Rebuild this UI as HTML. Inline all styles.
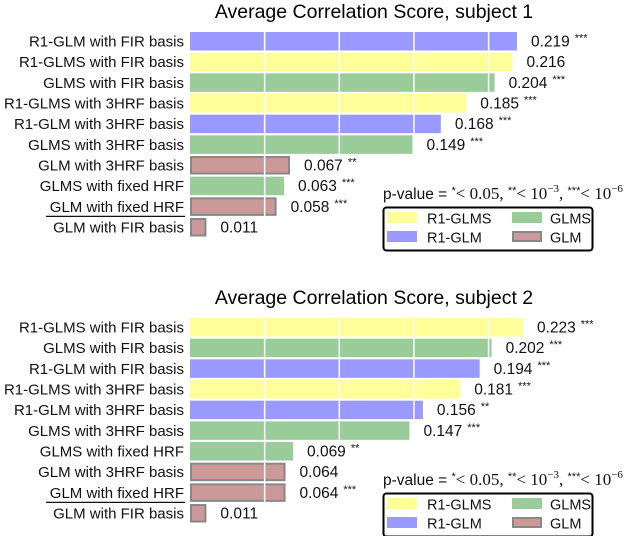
<!DOCTYPE html>
<html><head><meta charset="utf-8"><style>
body{margin:0;background:#fff;width:640px;height:536px;overflow:hidden}
svg{font-family:"Liberation Sans",sans-serif}
</style></head><body>
<svg id="s" width="640" height="536"></svg>
<script>
const labels1=["R1-GLM with FIR basis","R1-GLMS with FIR basis","GLMS with FIR basis","R1-GLMS with 3HRF basis","R1-GLM with 3HRF basis","GLMS with 3HRF basis","GLM with 3HRF basis","GLMS with fixed HRF","GLM with fixed HRF","GLM with FIR basis"];
const values1=[0.219,0.216,0.204,0.185,0.168,0.149,0.067,0.063,0.058,0.011];
const groups1=["R1-GLM","R1-GLMS","GLMS","R1-GLMS","R1-GLM","GLMS","GLM","GLMS","GLM","GLM"];
const stars1=["***","","***","***","***","***","**","***","***",""];
const labels2=["R1-GLMS with FIR basis","GLMS with FIR basis","R1-GLM with FIR basis","R1-GLMS with 3HRF basis","R1-GLM with 3HRF basis","GLMS with 3HRF basis","GLMS with fixed HRF","GLM with 3HRF basis","GLM with fixed HRF","GLM with FIR basis"];
const values2=[0.223,0.202,0.194,0.181,0.156,0.147,0.069,0.064,0.064,0.011];
const groups2=["R1-GLMS","GLMS","R1-GLM","R1-GLMS","R1-GLM","GLMS","GLMS","GLM","GLM","GLM"];
const stars2=["***","***","***","***","**","***","**","","***",""];
const gridTicks=[0.05,0.10,0.15,0.20];
const colors={"R1-GLMS":"#ffff99","R1-GLM":"#9999ff","GLMS":"#99cc99","GLM":"#cc9999"};
const NS="http://www.w3.org/2000/svg";
const svg=document.getElementById('s');
function mk(t,a,p){const e=document.createElementNS(NS,t);for(const k in a)e.setAttribute(k,a[k]);(p||svg).appendChild(e);return e;}
const X0=190,SC=1493;
function xs(v){return X0+v*SC;}
function chart(oy,title,labels,values,groups,stars,n){
  const g=mk('g',{});
  
  
  const t=mk('text',{x:374,y:oy+18,'text-anchor':'middle','font-size':19.5},g);
  t.textContent=title;
  
  
  const pitch=20.67;
  values.forEach((v,i)=>{
    const y=oy+32+i*pitch;
    const isG=groups[i]==="GLM";
    const r=mk('rect',{x:X0+(isG?1:0),y:y+(isG?1:0),width:xs(v)-X0-(isG?2:0),height:18.5-(isG?2:0),fill:colors[groups[i]],stroke:isG?'#888':'none','stroke-width':isG?2:0},g);
    
    
    gridTicks.forEach(tk=>{if(xs(tk)<xs(v)-1)mk('line',{x1:xs(tk),x2:xs(tk),y1:y,y2:y+18.5,stroke:'#fff','stroke-width':1.5},g);});
    const l=mk('text',{x:184,y:y+14.5,'text-anchor':'end','font-size':15,fill:'#111'},g);
    l.textContent=labels[i];
    
    
    if(labels[i]==="GLM with fixed HRF")mk('line',{x1:46,x2:185,y1:y+19,y2:y+19,stroke:'#111','stroke-width':1.3},g);
    const vt=mk('text',{x:xs(v)+14,y:y+14.5,'font-size':15.5,fill:'#111'},g);
    vt.textContent=v.toFixed(3);
    
    
    if(stars[i]){const st=mk('tspan',{dx:5,dy:-5,'font-size':11},vt);st.textContent=stars[i];}
  });
  const pv=mk('text',{x:383,y:oy+199,'font-size':15.5,fill:'#111'},g);
  pv.innerHTML='p-value = <tspan font-size="11" dy="-5">*</tspan><tspan dy="5" font-family="Liberation Serif" font-size="17">&lt; 0.05, </tspan><tspan font-size="11" dy="-5">**</tspan><tspan dy="5" font-family="Liberation Serif" font-size="17">&lt; 10</tspan><tspan font-size="11" dy="-7" font-family="Liberation Serif">−3</tspan><tspan dy="7" font-family="Liberation Serif" font-size="17">, </tspan><tspan font-size="11" dy="-5">***</tspan><tspan dy="5" font-family="Liberation Serif" font-size="17">&lt; 10</tspan><tspan font-size="11" dy="-7" font-family="Liberation Serif">−6</tspan>';
  
  
  const lg=mk('g',{},g);
  
  
  mk('rect',{x:383.5,y:oy+207.5,width:209,height:43,rx:3,fill:'#fff',stroke:'#000','stroke-width':2},lg);
  const ents=[["R1-GLMS",387,oy+212],["R1-GLM",387,oy+231],["GLMS",512,oy+212],["GLM",512,oy+231]];
  ents.forEach(e=>{
    const isG=e[0]==="GLM";
    mk('rect',{x:e[1]+(isG?1:0),y:e[2]+(isG?1:0),width:30-(isG?2:0),height:11-(isG?2:0),fill:colors[e[0]],stroke:isG?'#888':'none','stroke-width':isG?2:0},lg);
    const tx=mk('text',{x:e[1]+(e[1]===387?40:38),y:e[2]+11.5,'font-size':14.5,fill:'#111'},lg);
    tx.textContent=e[0];
    
    
  });
}
chart(0,"Average Correlation Score, subject 1",labels1,values1,groups1,stars1,1);
chart(286,"Average Correlation Score, subject 2",labels2,values2,groups2,stars2,2);
</script>
</body></html>
